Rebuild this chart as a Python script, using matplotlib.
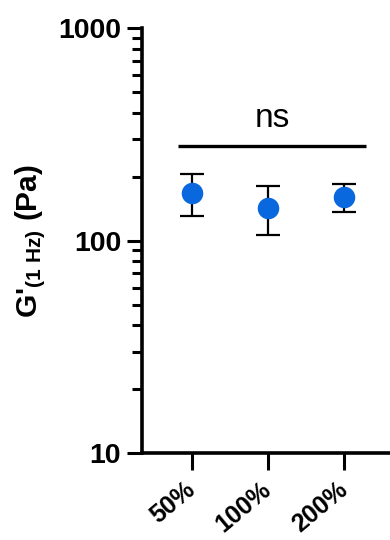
import matplotlib
matplotlib.use("Agg")
import matplotlib.pyplot as plt
from matplotlib.ticker import LogLocator, FixedLocator, NullFormatter

plt.rcParams['font.family'] = ['Liberation Sans', 'DejaVu Sans']
plt.rcParams['mathtext.fontset'] = 'custom'
plt.rcParams['mathtext.rm'] = 'Liberation Sans:bold'
plt.rcParams['mathtext.bf'] = 'Liberation Sans:bold'
plt.rcParams['mathtext.it'] = 'Liberation Sans:bold'

# Storage modulus at 1 Hz (mean ± SD) for each group
groups = ["50%", "100%", "200%"]
g_mean = [168, 143, 161]
g_sd = [37, 37, 24]
sig_label = "ns"
sig_level = 280
y_ticks = [10, 100, 1000]
y_tick_labels = ["10", "100", "1000"]

fig = plt.figure(figsize=(3.9, 5.4), dpi=100)
ax = fig.add_axes([0.364, 0.161, 0.636, 0.787])

x = list(range(1, len(groups) + 1))
ax.errorbar(x, g_mean, yerr=g_sd, fmt='none', ecolor='black',
            elinewidth=1.6, capsize=8.6, capthick=1.6, zorder=2)
ax.plot(x, g_mean, 'o', color='#0A68DE', markersize=14.5, zorder=3)

ax.set_yscale('log')
ax.set_ylim(10, 1000)
ax.set_xlim(0.34, 3.6)

ax.yaxis.set_major_locator(FixedLocator(y_ticks))
ax.set_yticklabels(y_tick_labels, fontsize=20.5, fontweight='bold')
ax.yaxis.set_minor_locator(LogLocator(base=10, subs=range(2, 10)))
ax.yaxis.set_minor_formatter(NullFormatter())

ax.set_xticks(x)
ax.set_xticklabels(groups, fontsize=18, fontweight='bold', rotation=40,
                   ha='right', va='center', rotation_mode='anchor')

for side in ('top', 'right'):
    ax.spines[side].set_visible(False)
for side in ('left', 'bottom'):
    ax.spines[side].set_linewidth(2.6)

ax.tick_params(axis='y', which='major', length=11, width=2.2, pad=4)
ax.tick_params(axis='y', which='minor', length=7, width=2.2)
ax.tick_params(axis='x', which='major', length=12, width=2.2, pad=12)

ax.set_ylabel(r"G'$_{\mathbf{(1\ Hz)}}$ (Pa)", fontsize=21.5, fontweight='bold', labelpad=7)

# significance bar
ax.plot([0.816, 3.29], [sig_level, sig_level], color='black', lw=2.4,
        solid_capstyle='butt', clip_on=False)
ax.text(2.05, 343, sig_label, ha='center', va='baseline', fontsize=24)

fig.savefig("out.png", dpi=100)
